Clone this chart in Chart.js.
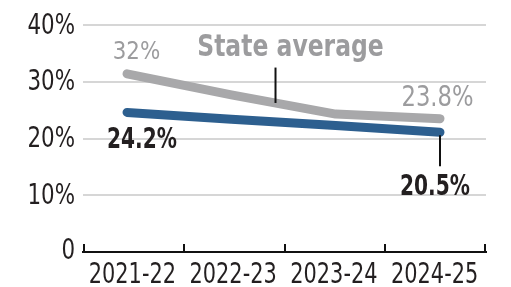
<!DOCTYPE html>
<html><head><meta charset="utf-8">
<script src="https://cdn.jsdelivr.net/npm/chart.js@4/dist/chart.umd.min.js"></script>
<style>html,body{margin:0;padding:0;background:#fff}#wrap{width:511px;height:287px}</style>
</head><body><div id="wrap"><canvas id="c" width="511" height="287"></canvas></div>
<script>
const categories = ['2021-22', '2022-23', '2023-24', '2024-25'];
const stateAvg = [31.4, 27.7, 24.3, 23.5];
const district = [24.6, 23.4, 22.3, 21.1];
const stateLabels = ['32%', '23.8%'];
const districtLabels = ['24.2%', '20.5%'];
const yTicks = [0, 10, 20, 30, 40];
const yTickLabels = ['0', '10%', '20%', '30%', '40%'];
const seriesName = 'State average';

const FONT = "'DejaVu Sans Condensed', 'DejaVu Sans', sans-serif";
const GRAY = '#a8a8aa', BLUE = '#2d5f8f', DARK = '#231f20', GRAYTXT = '#9c9c9e';

function txt(ctx, s, x, y, font, color, sx, align) {
  ctx.save();
  ctx.font = font; ctx.fillStyle = color; ctx.textBaseline = 'alphabetic';
  ctx.textAlign = align || 'center';
  ctx.translate(x, y); ctx.scale(sx, 1);
  ctx.fillText(s, 0, 0);
  ctx.restore();
}

const overlay = {
  id: 'overlay',
  afterDraw(chart) {
    const ctx = chart.ctx, xs = chart.scales.x, ys = chart.scales.y;
    const mg = chart.getDatasetMeta(1).data, mb = chart.getDatasetMeta(0).data;
    ctx.save();
    // y tick labels
    yTicks.forEach((v, i) => {
      const y = ys.getPixelForValue(v) + (v === 0 ? 6.5 : 8.5);
      txt(ctx, yTickLabels[i], xs.left - 8, y, "29px " + FONT, DARK, 0.82, 'right');
    });
    // x tick labels
    categories.forEach((c, i) => {
      txt(ctx, c, xs.getPixelForValue(i) - 1, ys.bottom + 31, "29px " + FONT, DARK, 0.8, 'center');
    });
    // x axis tick marks pointing up
    ctx.strokeStyle = '#111'; ctx.lineWidth = 2;
    const y0 = ys.getPixelForValue(0);
    for (let i = 0; i <= categories.length; i++) {
      const x = Math.round(xs.left + i * (xs.right - xs.left) / categories.length) + (i === categories.length ? -1 : (i === 0 ? 1 : 0));
      ctx.beginPath(); ctx.moveTo(x, y0 + 1); ctx.lineTo(x, y0 - 8); ctx.stroke();
    }
    // state labels
    txt(ctx, stateLabels[0], mg[0].x + 9.5, mg[0].y - 15, "25px " + FONT, GRAYTXT, 0.95);
    txt(ctx, stateLabels[1], mg[3].x - 2.5, mg[3].y - 12.5, "29px " + FONT, GRAYTXT, 0.87);
    const mx = (mg[1].x + mg[2].x) / 2 - 8;
    const lineY = mg[1].y + (mg[2].y - mg[1].y) * ((mx - mg[1].x) / (mg[2].x - mg[1].x));
    txt(ctx, seriesName, mx + 15, ys.getPixelForValue(34.5), "bold 30px " + FONT, GRAYTXT, 0.87);
    ctx.strokeStyle = '#111'; ctx.lineWidth = 2;
    ctx.beginPath(); ctx.moveTo(mx, ys.getPixelForValue(32.5)); ctx.lineTo(mx, lineY); ctx.stroke();
    // district labels
    txt(ctx, districtLabels[0], mb[0].x + 15, mb[0].y + 36, "bold 28px " + FONT, DARK, 0.8);
    txt(ctx, districtLabels[1], mb[3].x - 5, mb[3].y + 63, "bold 28px " + FONT, DARK, 0.8);
    ctx.beginPath(); ctx.moveTo(mb[3].x, mb[3].y + 3); ctx.lineTo(mb[3].x, mb[3].y + 34); ctx.stroke();
    ctx.restore();
  }
};

new Chart(document.getElementById('c'), {
  type: 'line',
  data: {
    labels: categories,
    datasets: [
      { label: 'District', data: district.map((v, i) => ({ x: i, y: v })), xAxisID: 'x2',
        borderColor: BLUE, borderWidth: 9, borderCapStyle: 'round', borderJoinStyle: 'round', pointRadius: 0, tension: 0 },
      { label: seriesName, data: stateAvg.map((v, i) => ({ x: i, y: v })), xAxisID: 'x2',
        borderColor: GRAY, borderWidth: 9, borderCapStyle: 'round', borderJoinStyle: 'round', pointRadius: 0, tension: 0 }
    ]
  },
  options: {
    responsive: false, animation: false, devicePixelRatio: 1,
    layout: { padding: { top: 25, right: 25, left: 0, bottom: 0 } },
    plugins: { legend: { display: false }, tooltip: { enabled: false } },
    scales: {
      x: {
        type: 'category', offset: true,
        grid: { display: false },
        border: { display: true, color: '#111', width: 2 },
        ticks: { display: false },
        afterFit(s) { s.height = 35; }
      },
      x2: { type: 'linear', display: false, min: -0.422, max: 3.441 },
      y: {
        min: 0, max: 40,
        afterBuildTicks(s) { s.ticks = yTicks.map(v => ({ value: v })); },
        grid: { color: (c) => c.tick.value === 0 ? 'rgba(0,0,0,0)' : '#d6d6d6', lineWidth: 2, drawTicks: false },
        border: { display: false },
        ticks: { display: false },
        afterFit(s) { s.width = 83; }
      }
    }
  },
  plugins: [overlay]
});
</script></body></html>
